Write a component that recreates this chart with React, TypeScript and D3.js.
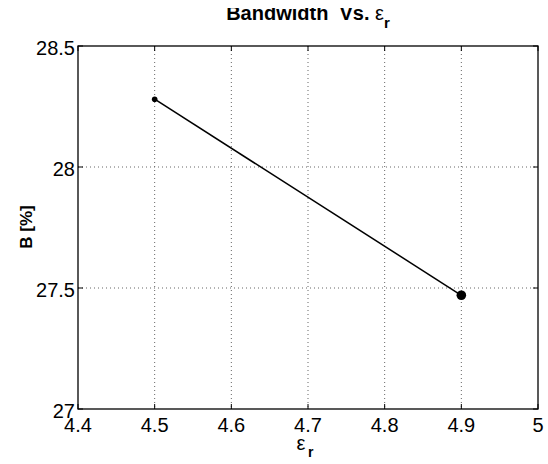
import React from "react";
import * as d3 from "d3";

const epsValues = [4.5, 4.9];
const bandwidthValues = [28.28, 27.47];
const xTicks = [4.4, 4.5, 4.6, 4.7, 4.8, 4.9, 5];
const yTicks = [27, 27.5, 28, 28.5];

export default function App() {
  const W = 548, H = 464;
  const L = 78, R = 538, T = 46, B = 409;
  const x = d3.scaleLinear().domain([4.4, 5]).range([L, R]);
  const y = d3.scaleLinear().domain([27, 28.5]).range([B, T]);
  const pts = epsValues.map((e, i) => [x(e), y(bandwidthValues[i])] as [number, number]);
  const line = d3.line()(pts) || "";
  const font = "'Liberation Sans', Arial, Helvetica, sans-serif";
  return (
    <svg width={W} height={H} style={{ position: "absolute", left: 0, top: 0, background: "#fff" }} fontFamily={font}>
      <defs>
        <clipPath id="titleClip">
          <rect x={0} y={8} width={W} height={40} />
        </clipPath>
      </defs>
      <rect x={0} y={0} width={W} height={H} fill="#fff" />
      {xTicks.slice(1, -1).map((t) => (
        <line key={"gx" + t} x1={x(t)} x2={x(t)} y1={T} y2={B} stroke="#666" strokeWidth={1} strokeDasharray="1,3" />
      ))}
      {yTicks.slice(1, -1).map((t) => (
        <line key={"gy" + t} x1={L} x2={R} y1={y(t)} y2={y(t)} stroke="#666" strokeWidth={1} strokeDasharray="1,3" />
      ))}
      {xTicks.map((t) => (
        <g key={"tx" + t}>
          <line x1={x(t)} x2={x(t)} y1={B} y2={B - 5} stroke="#000" />
          <line x1={x(t)} x2={x(t)} y1={T} y2={T + 5} stroke="#000" />
          <text x={x(t)} y={B + 23} textAnchor="middle" fontSize={20}>{t}</text>
        </g>
      ))}
      {yTicks.map((t) => (
        <g key={"ty" + t}>
          <line x1={L} x2={L + 5} y1={y(t)} y2={y(t)} stroke="#000" />
          <line x1={R} x2={R - 5} y1={y(t)} y2={y(t)} stroke="#000" />
          <text x={L - 3} y={y(t) + 8.5} textAnchor="end" fontSize={20}>{t}</text>
        </g>
      ))}
      <rect x={L} y={T} width={R - L} height={B - T} fill="none" stroke="#000" strokeWidth={1.3} />
      <path d={line} fill="none" stroke="#000" strokeWidth={1.5} />
      <circle cx={pts[0][0]} cy={pts[0][1]} r={2.8} fill="#000" />
      <circle cx={pts[1][0]} cy={pts[1][1]} r={4.8} fill="#000" />
      <g clipPath="url(#titleClip)">
        <text x={308} y={20} textAnchor="middle" fontSize={20} fontWeight="bold" style={{ whiteSpace: "pre" }}>
          {"Bandwidth  Vs. "}<tspan fontWeight="normal" fontSize={20}>ε</tspan><tspan fontSize={15} dy={8}>r</tspan>
        </text>
      </g>
      <text x={301} y={450} textAnchor="middle" fontSize={20}>ε</text>
      <text x={308} y={457} fontSize={14} fontWeight="bold">r</text>
      <text transform={`translate(32, 227) rotate(-90)`} textAnchor="middle" fontSize={17} fontWeight="bold">
        B [%]
      </text>
    </svg>
  );
}
